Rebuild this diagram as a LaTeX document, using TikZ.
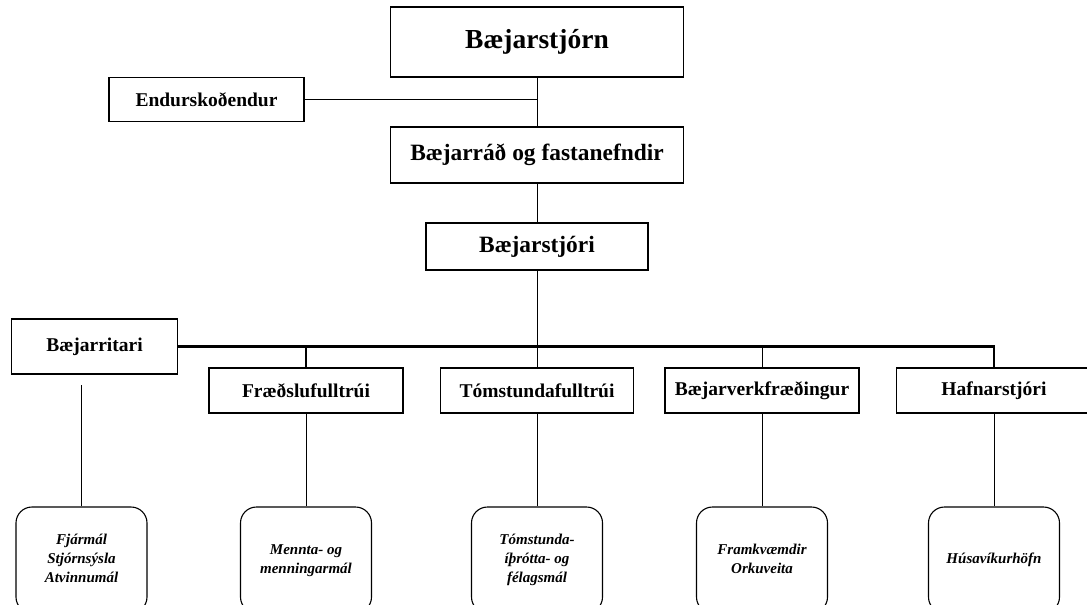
\documentclass[tikz,border=0pt]{standalone}
\usepackage{fontspec}
\setmainfont{Liberation Serif}
\newcommand{\unitlines}[1]{\raisebox{3pt}{\begin{tabular}{@{}c@{}}#1\end{tabular}}}
\tikzset{
    office/.style={draw, line width=1.1pt, inner sep=0pt, font=\bfseries},
    unit/.style={draw, line width=1.1pt, rounded corners=16pt, inner sep=0pt,
        minimum width=131pt, minimum height=106pt,
        font=\bfseries\itshape\fontsize{15}{19}\selectfont},
}

\begin{document}
\begin{tikzpicture}[x=1pt, y=-1pt]
        \clip (0,0) rectangle (1087,605);

        \node[office, minimum width=293pt, minimum height=70pt, font=\bfseries\fontsize{27.5}{32}\selectfont] (stjorn) at (537,42) {Bæjarstjórn};
        \node[office, minimum width=195pt, minimum height=44pt, font=\bfseries\fontsize{19.5}{22}\selectfont] (endur) at (206.5,99.5) {Endurskoðendur};
        \node[office, minimum width=293pt, minimum height=56pt, font=\bfseries\fontsize{23.4}{27}\selectfont] (rad) at (537,155) {Bæjarráð og fastanefndir};
        \node[office, minimum width=222pt, minimum height=47pt, font=\bfseries\fontsize{23.4}{27}\selectfont] (stjori) at (537,246.5) {Bæjarstjóri};

        \node[office, minimum width=166pt, minimum height=55pt, font=\bfseries\fontsize{19.5}{22}\selectfont] (ritari) at (94.5,346.5) {Bæjarritari};
        \node[office, minimum width=194pt, minimum height=45pt, font=\bfseries\fontsize{19.5}{22}\selectfont] (fraedsla) at (306,390.5) {Fræðslufulltrúi};
        \node[office, minimum width=193pt, minimum height=45pt, font=\bfseries\fontsize{19.5}{22}\selectfont] (tomst) at (537,390.5) {Tómstundafulltrúi};
        \node[office, minimum width=194pt, minimum height=45pt, font=\bfseries\fontsize{19.5}{22}\selectfont] (verk) at (762,390.5) {Bæjarverkfræðingur};
        \node[office, minimum width=195pt, minimum height=45pt, font=\bfseries\fontsize{19.5}{22}\selectfont] (hafnar) at (994,390.5) {Hafnarstjóri};

        \node[unit] (fjarmal) at (81.5,560) {\unitlines{Fjármál\\Stjórnsýsla\\Atvinnumál}};
        \node[unit] (mennta) at (306,560) {\unitlines{Mennta- og\\menningarmál}};
        \node[unit] (tomstmal) at (537,560) {\unitlines{Tómstunda-\\íþrótta- og\\félagsmál}};
        \node[unit] (framkv) at (762,560) {\unitlines{Framkvæmdir\\Orkuveita}};
        \node[unit] (hofn) at (994,560) {\unitlines{Húsavíkurhöfn}};

        % efri hluti
        \draw[line width=1pt] (stjorn.south) -- (rad.north);
        \draw[line width=1pt] (endur.east) -- (endur.east -| stjorn.south);
        \draw[line width=1pt] (rad.south) -- (stjori.north);
        \draw[line width=1pt] (stjori.south) -- (tomst.north);

        % lina milli deilda
        \draw[line width=2.2pt] (ritari.east) -- (ritari.east -| hafnar.north) -- (hafnar.north);
        \draw[line width=2.2pt] (ritari.east -| fraedsla.north) -- (fraedsla.north);
        \draw[line width=1pt] (ritari.east -| verk.north) -- (verk.north);

        % nidur i malaflokka
        \draw[line width=1pt, shorten >=10pt] (fjarmal.north) -- (fjarmal.north |- ritari.south);
        \draw[line width=1pt] (fraedsla.south) -- (mennta.north);
        \draw[line width=1pt] (tomst.south) -- (tomstmal.north);
        \draw[line width=1pt] (verk.south) -- (framkv.north);
        \draw[line width=1pt] (hafnar.south) -- (hofn.north);
\end{tikzpicture}
\end{document}
